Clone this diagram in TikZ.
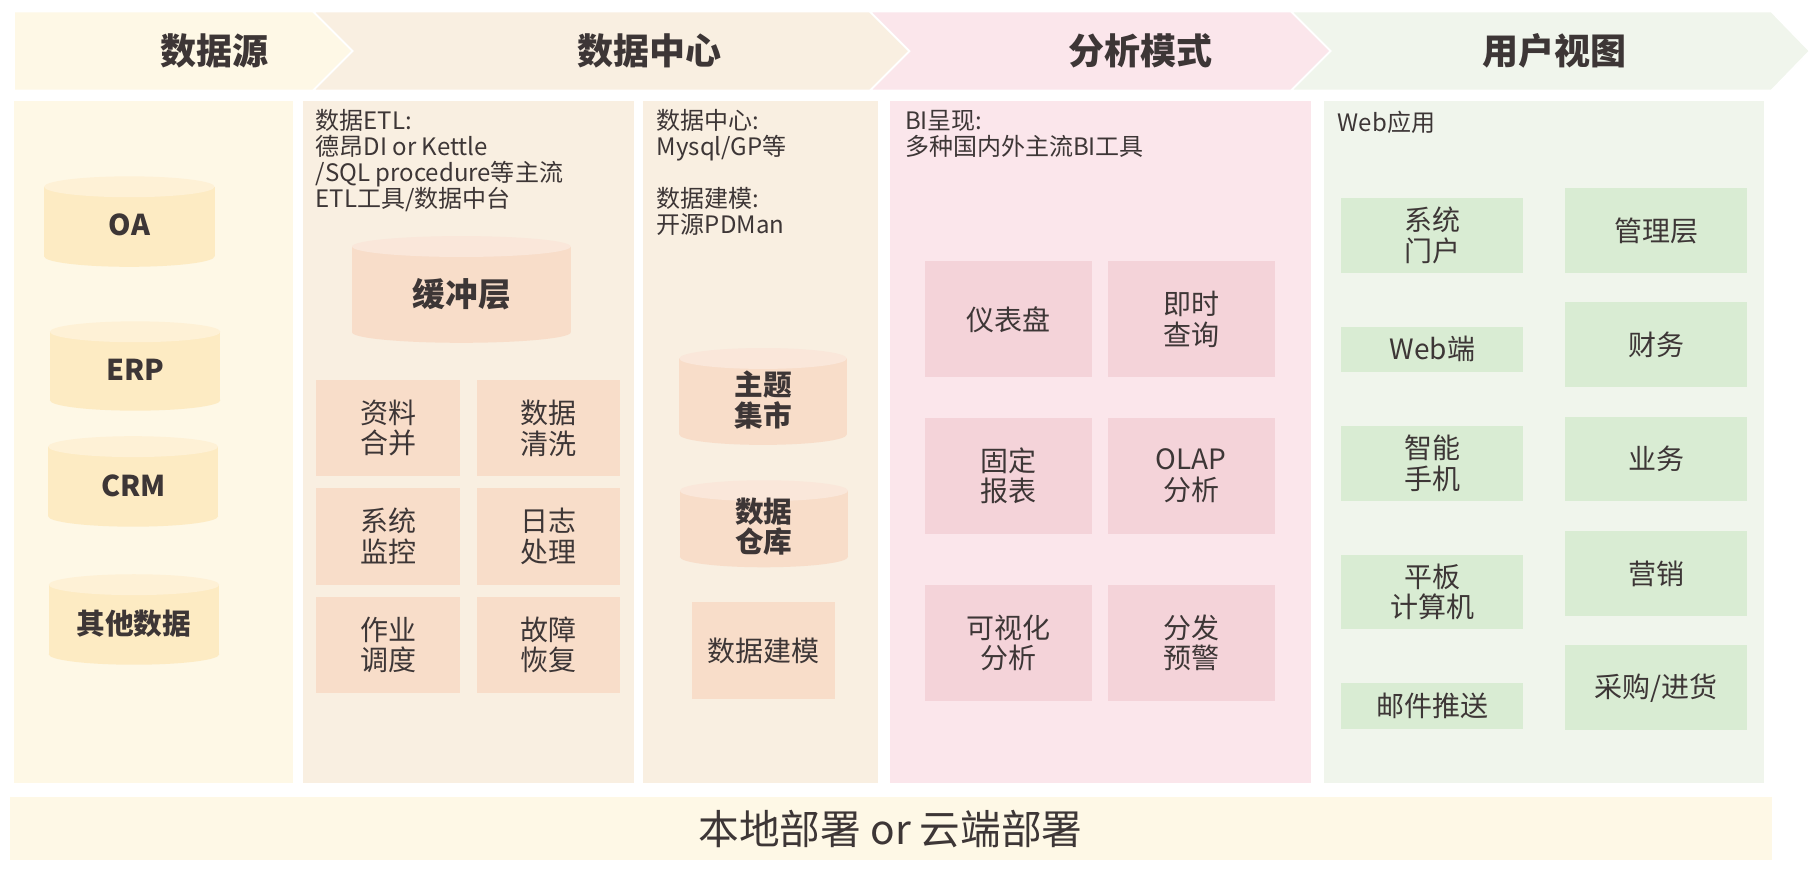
\documentclass[tikz,border=0pt]{standalone}
\usepackage{fontspec}
\setmainfont{Noto Sans CJK SC}
\usetikzlibrary{positioning}

\definecolor{dsCream}{HTML}{FEF8E6}
\definecolor{dsBeige}{HTML}{F9EFE1}
\definecolor{dsPink}{HTML}{FBE6EB}
\definecolor{dsMint}{HTML}{F0F5EC}
\definecolor{dsYellow}{HTML}{FDEBC3}
\definecolor{dsYellowTop}{HTML}{FEF1D6}
\definecolor{dsPeach}{HTML}{F8DDC9}
\definecolor{dsPeachTop}{HTML}{FAE7DA}
\definecolor{dsRose}{HTML}{F4D3D9}
\definecolor{dsGreen}{HTML}{D9ECD3}
\definecolor{dsText}{HTML}{3D3636}

\def\ux{0.87pt}

% cylinder: body colour, top colour, x1, x2, y top, y bottom
\newcommand{\dbcyl}[6]{%
  \fill[#1] (#3,#5+9) rectangle (#4,#6-9);
  \fill[#1] ({(#3+#4)/2},#6-9) ellipse[x radius={(#4-#3)/2}, y radius=9];
  \fill[#2] ({(#3+#4)/2},#5+9) ellipse[x radius={(#4-#3)/2}, y radius=9];
}

\tikzset{
  chevron/.style={draw=white, line width=1.3pt, line join=miter},
  hdrtext/.style={font=\fontsize{27}{30}\selectfont\bfseries, text=dsText},
  panel/.style={anchor=north west, inner sep=0pt, minimum height=588*\ux},
  % anchored at the baseline of the last line
  note/.style={anchor=base west, inner sep=0pt, align=left, text=dsText,
    font=\fontsize{18}{19.5}\selectfont},
  cyllabel/.style={align=center, text=dsText, font=\fontsize{21.5}{23}\selectfont\bfseries},
  cell/.style={anchor=north west, inner sep=0pt, align=center, text=dsText,
    font=\fontsize{21}{23}\selectfont},
  etlcell/.style={cell, fill=dsPeach, minimum width=123.5*\ux, minimum height=83.5*\ux},
  bicell/.style={cell, fill=dsRose, minimum width=144*\ux, minimum height=100*\ux},
  webcell/.style={cell, fill=dsGreen, minimum width=157*\ux, minimum height=64.5*\ux},
  webslim/.style={webcell, minimum height=39*\ux},
  rolecell/.style={webcell, minimum height=73*\ux},
  deploybar/.style={anchor=north west, inner sep=0pt, fill=dsCream, text=dsText,
    font=\fontsize{30.5}{32}\selectfont}
}

\begin{document}
\begin{tikzpicture}[x=0.87pt, y=-0.87pt]
  \path[use as bounding box, fill=white] (0,0) rectangle (1568,759);

  % header arrows
  \filldraw[chevron, fill=dsCream] (12,10) -- (270,10) -- (304,44) -- (270,78) -- (12,78) -- cycle;
  \filldraw[chevron, fill=dsBeige] (270,10) -- (750,10) -- (784,44) -- (750,78) -- (270,78) -- (304,44) -- cycle;
  \filldraw[chevron, fill=dsPink] (750,10) -- (1113,10) -- (1147,44) -- (1113,78) -- (750,78) -- (784,44) -- cycle;
  \filldraw[chevron, fill=dsMint] (1113,10) -- (1527,10) -- (1560,44) -- (1527,78) -- (1113,78) -- (1147,44) -- cycle;
  \node[hdrtext] (hsource) at (185,44) {数据源};
  \node[hdrtext] (hcenter) at (560,44) {数据中心};
  \node[hdrtext] (hanalysis) at (983,44) {分析模式};
  \node[hdrtext] (hview) at (1340,44) {用户视图};

  % columns
  \node[panel, fill=dsCream, minimum width=240*\ux] (psource) at (12,87) {};
  \node[panel, fill=dsBeige, minimum width=285*\ux] (petl) at (261,87) {};
  \node[panel, fill=dsBeige, minimum width=203*\ux] (pstore) at (554,87) {};
  \node[panel, fill=dsPink, minimum width=363*\ux] (pbi) at (767,87) {};
  \node[panel, fill=dsMint, minimum width=379*\ux] (pweb) at (1141,87) {};

  % data sources
  \dbcyl{dsYellow}{dsYellowTop}{38}{185}{152}{230}
  \node[cyllabel] (oa) at (111.5,194) {OA};
  \dbcyl{dsYellow}{dsYellowTop}{43}{190}{277}{354}
  \node[cyllabel] (erp) at (116.5,319) {ERP};
  \dbcyl{dsYellow}{dsYellowTop}{41.5}{188}{376}{454}
  \node[cyllabel] (crm) at (115,419) {CRM};
  \dbcyl{dsYellow}{dsYellowTop}{42}{189}{495}{573}
  \node[cyllabel] (otherdata) at (115.5,538) {其他数据};

  % ETL
  \node[note] (etlnote) at (272,179.2) {数据ETL:\\德昂DI or Kettle\\/SQL procedure等主流\\ETL工具/数据中台};
  \dbcyl{dsPeach}{dsPeachTop}{303.5}{492}{203.5}{295.5}
  \node[cyllabel, font=\fontsize{24.5}{26}\selectfont\bfseries] (buffer) at (398,253.5) {缓冲层};
  \node[etlcell] (merge) at (272.5,327) {资料\\合并};
  \node[etlcell, right=12.6pt of merge] (clean) {数据\\清洗};
  \node[etlcell, below=8.3pt of merge] (monitor) {系统\\监控};
  \node[etlcell, right=12.6pt of monitor] (logproc) {日志\\处理};
  \node[etlcell, below=8.3pt of monitor] (schedule) {作业\\调度};
  \node[etlcell, right=12.6pt of schedule] (recover) {故障\\恢复};

  % storage
  \node[note] (storenote) at (566,201.7) {数据中心:\\Mysql/GP等\\[19.5pt]数据建模:\\开源PDMan};
  \dbcyl{dsPeach}{dsPeachTop}{585.5}{730}{300}{383.5}
  \node[cyllabel] (mart) at (658,345) {主题\\集市};
  \dbcyl{dsPeach}{dsPeachTop}{586}{731}{414}{489}
  \node[cyllabel] (warehouse) at (658.5,454) {数据\\仓库};
  \node[etlcell] (modeling) at (596,519) {数据建模};

  % BI
  \node[note] (binote) at (780,134.4) {BI呈现:\\多种国内外主流BI工具};
  \node[bicell] (dashboard) at (797,225) {仪表盘};
  \node[bicell, right=11.3pt of dashboard] (adhoc) {即时\\查询};
  \node[bicell, below=30pt of dashboard] (report) {固定\\报表};
  \node[bicell, right=11.3pt of report] (olap) {OLAP\\分析};
  \node[bicell, below=37.8pt of report] (visual) {可视化\\分析};
  \node[bicell, right=11.3pt of visual] (alert) {分发\\预警};

  % web
  \node[note] (webnote) at (1153,113) {Web应用};
  \node[webcell] (portal) at (1156,170.5) {系统\\门户};
  \node[webslim, below=40pt of portal] (webend) {Web端};
  \node[webcell, below=40pt of webend] (phone) {智能\\手机};
  \node[webcell, below=40pt of phone] (tablet) {平板\\计算机};
  \node[webslim, below=40pt of tablet] (mail) {邮件推送};
  \node[rolecell] (manager) at (1349,162) {管理层};
  \node[rolecell, below=21.8pt of manager] (finance) {财务};
  \node[rolecell, below=21.8pt of finance] (business) {业务};
  \node[rolecell, below=21.8pt of business] (marketing) {营销};
  \node[rolecell, below=21.8pt of marketing] (purchase) {采购/进货};

  % deployment
  \node[deploybar, minimum width=1519*\ux, minimum height=54*\ux] (deploy) at (8,687) {本地部署 or 云端部署};
\end{tikzpicture}
\end{document}
